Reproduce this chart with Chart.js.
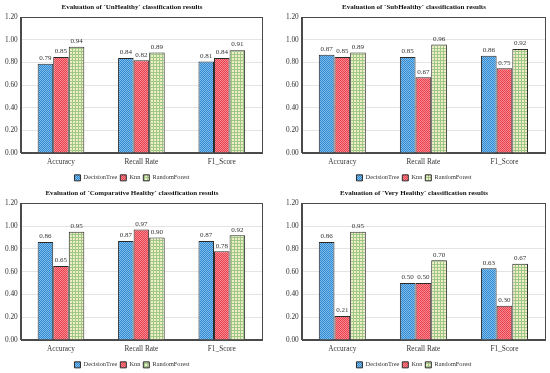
<!DOCTYPE html>
<html>
<head>
<meta charset="utf-8">
<script src="https://cdn.jsdelivr.net/npm/chart.js@4.4.0/dist/chart.umd.min.js"></script>
<style>
  body { margin: 0; background: #fff; }
  #grid { display: grid; grid-template-columns: 275px 275px; grid-template-rows: 186px 187px; width: 550px; height: 373px; }
  .cell { position: relative; }
</style>
</head>
<body>
<div id="grid">
  <div class="cell"><canvas id="c1"></canvas></div>
  <div class="cell"><canvas id="c2"></canvas></div>
  <div class="cell"><canvas id="c3"></canvas></div>
  <div class="cell"><canvas id="c4"></canvas></div>
</div>
<script>
const categories = ['Accuracy', 'Recall Rate', 'F1_Score'];
const seriesNames = ['DecisionTree', 'Knn', 'RandomForest'];
const yMin = 0, yMax = 1.2, yStep = 0.2;

// `UnHealthy`
const unHealthyDT = [0.79, 0.84, 0.81];
const unHealthyKnn = [0.85, 0.82, 0.84];
const unHealthyRF = [0.94, 0.89, 0.91];
// `SubHealthy`
const subHealthyDT = [0.87, 0.85, 0.86];
const subHealthyKnn = [0.85, 0.67, 0.75];
const subHealthyRF = [0.89, 0.96, 0.92];
// `Comparative Healthy`
const compHealthyDT = [0.86, 0.87, 0.87];
const compHealthyKnn = [0.65, 0.97, 0.78];
const compHealthyRF = [0.95, 0.90, 0.92];
// `Very Healthy`
const veryHealthyDT = [0.86, 0.50, 0.63];
const veryHealthyKnn = [0.21, 0.50, 0.30];
const veryHealthyRF = [0.95, 0.70, 0.67];

const serif = "'Liberation Serif', 'Times New Roman', serif";

function makePattern(kind) {
  const c = document.createElement('canvas');
  const g = c.getContext('2d');
  if (kind === 'green') {
    c.width = 3; c.height = 3;
    g.fillStyle = '#f1edc9';
    g.fillRect(0, 0, 3, 3);
    g.fillStyle = '#9dc784';
    g.fillRect(0, 0, 3, 1);
    g.fillRect(0, 0, 1, 3);
  } else {
    c.width = 2; c.height = 2;
    const base = kind === 'blue' ? '#3089d2' : '#ea3f4c';
    const light = kind === 'blue' ? '#80bde9' : '#f88a92';
    g.fillStyle = base;
    g.fillRect(0, 0, 2, 2);
    g.fillStyle = light;
    g.fillRect(0, 0, 1, 1);
    g.fillRect(1, 1, 1, 1);
  }
  return g.createPattern(c, 'repeat');
}

const fills = [makePattern('blue'), makePattern('red'), makePattern('green')];

// box around the plot area
const framePlugin = {
  id: 'frame',
  afterDatasetsDraw(chart) {
    const { ctx, chartArea: a } = chart;
    ctx.save();
    ctx.strokeStyle = '#4a4a4a';
    ctx.lineWidth = 1;
    ctx.strokeRect(Math.round(a.left) + 0.5, Math.round(a.top) + 0.5,
                   Math.round(a.right - a.left), Math.round(a.bottom - a.top));
    ctx.restore();
  }
};

// value labels over bars
const valuePlugin = {
  id: 'values',
  afterDatasetsDraw(chart) {
    const ctx = chart.ctx;
    ctx.save();
    ctx.font = '7px ' + serif;
    ctx.fillStyle = '#333';
    ctx.textAlign = 'center';
    ctx.textBaseline = 'bottom';
    chart.data.datasets.forEach((ds, i) => {
      chart.getDatasetMeta(i).data.forEach((bar, j) => {
        ctx.fillText(ds.data[j].toFixed(2), bar.x, bar.y - 2);
      });
    });
    ctx.restore();
  }
};

function makeChart(id, title, dt, knn, rf, side) {
  const values = [dt, knn, rf];
  new Chart(document.getElementById(id), {
    type: 'bar',
    data: {
      labels: categories,
      datasets: seriesNames.map((name, i) => ({
        label: name,
        data: values[i],
        backgroundColor: fills[i],
        borderColor: '#2a2a2a',
        borderWidth: 1,
        categoryPercentage: 0.58,
        barPercentage: 1.0
      }))
    },
    options: {
      responsive: true,
      maintainAspectRatio: false,
      animation: false,
      layout: { padding: side === 'left' ? { left: 2, right: 13, top: 0, bottom: -5 } : { left: 8, right: 5, top: 0, bottom: -5 } },
      plugins: {
        title: {
          display: true,
          text: title,
          color: '#111',
          font: { family: serif, size: 7, weight: 'bold' },
          padding: { top: 3, bottom: 6 }
        },
        legend: {
          position: 'bottom',
          labels: {
            boxWidth: 6,
            boxHeight: 6,
            padding: 3,
            color: '#333',
            font: { family: serif, size: 6.3 }
          }
        },
        tooltip: { enabled: false }
      },
      scales: {
        x: {
          grid: { display: false, drawTicks: false },
          border: { color: '#4a4a4a' },
          ticks: { color: '#333', font: { family: serif, size: 7.3 }, padding: 5 }
        },
        y: {
          min: yMin,
          max: yMax,
          grid: { color: '#e4e4e4', drawTicks: false },
          border: { color: '#4a4a4a' },
          ticks: {
            stepSize: yStep,
            color: '#333',
            padding: 3,
            font: { family: serif, size: 7.3 },
            callback: v => v.toFixed(2)
          }
        }
      }
    },
    plugins: [framePlugin, valuePlugin]
  });
}

makeChart('c1', 'Evaluation of `UnHealthy` classification results', unHealthyDT, unHealthyKnn, unHealthyRF, 'left');
makeChart('c2', 'Evaluation of `SubHealthy` classification results', subHealthyDT, subHealthyKnn, subHealthyRF, 'right');
makeChart('c3', 'Evaluation of `Comparative Healthy` classification results', compHealthyDT, compHealthyKnn, compHealthyRF, 'left');
makeChart('c4', 'Evaluation of `Very Healthy` classification results', veryHealthyDT, veryHealthyKnn, veryHealthyRF, 'right');
</script>
</body>
</html>
